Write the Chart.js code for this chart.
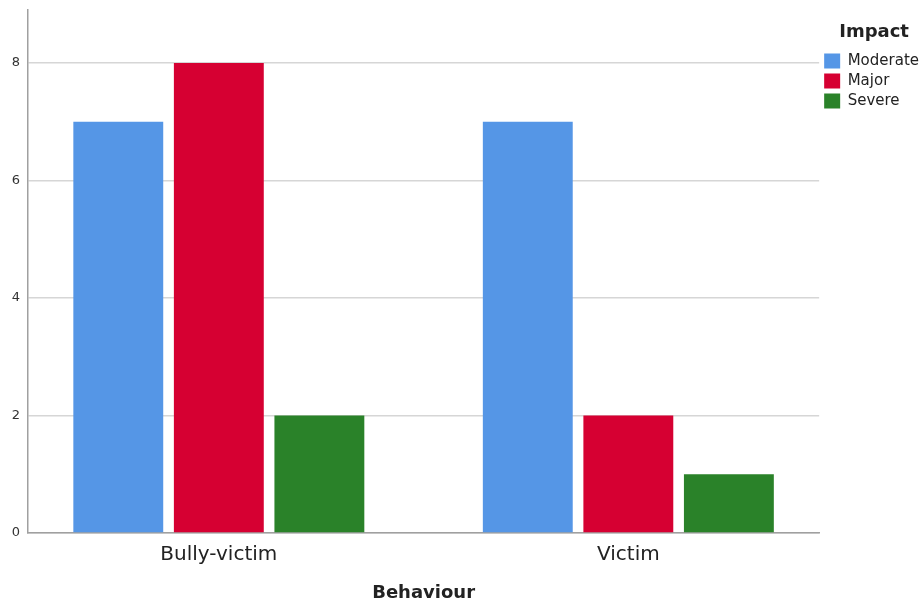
<!DOCTYPE html>
<html><head><meta charset="utf-8">
<script src="https://cdn.jsdelivr.net/npm/chart.js@4/dist/chart.umd.min.js"></script>
<style>html,body{margin:0;padding:0;background:#fff}#wrap{width:921px;height:607px}</style>
</head><body><div id="wrap"><canvas id="c" width="921" height="607"></canvas></div>
<script>
const categories = ['Bully-victim', 'Victim'];
const seriesNames = ['Moderate', 'Major', 'Severe'];
const moderate = [7, 7];
const major = [8, 2];
const severe = [2, 1];
const yTicks = [0, 2, 4, 6, 8];
const colors = ['#5596E6', '#D60032', '#2A8229'];

const toPoints = arr => arr.map((v, i) => ({x: i, y: v}));
const seriesValues = [moderate, major, severe];

Chart.defaults.font.family = '"DejaVu Sans", sans-serif';

new Chart(document.getElementById('c'), {
  type: 'bar',
  data: {
    datasets: seriesNames.map((n, k) => ({
      label: n,
      data: toPoints(seriesValues[k]),
      backgroundColor: colors[k],
      borderWidth: 0,
      categoryPercentage: 0.7366,
      barPercentage: 0.894
    }))
  },
  options: {
    responsive: false,
    animation: false,
    layout: {padding: {top: 10, left: 0, right: -8, bottom: 0}},
    plugins: {
      tooltip: {enabled: false},
      legend: {
        position: 'right',
        align: 'start',
        title: {display: true, text: 'Impact', color: '#222', font: {size: 18, weight: 'bold'}, padding: {top: 13, bottom: 4}},
        labels: {boxWidth: 16, boxHeight: 15, font: {size: 15}, color: '#222', padding: 5}
      }
    },
    scales: {
      x: {
        type: 'linear',
        min: -0.466,
        max: 1.466,
        offset: false,
        grid: {display: false},
        border: {display: true, color: '#a0a0a0', width: 1.5},
        afterBuildTicks: s => { s.ticks = categories.map((c, i) => ({value: i})); },
        afterFit: s => { s.height = 74; },
        ticks: {
          callback: v => categories[v],
          font: {size: 20}, color: '#222', padding: 2, maxRotation: 0, autoSkip: false
        },
        title: {display: true, text: 'Behaviour', color: '#222', font: {size: 18, weight: 'bold'}, padding: {top: 0, bottom: 3}}
      },
      y: {
        min: 0,
        max: 8.9,
        afterBuildTicks: s => { s.ticks = yTicks.map(v => ({value: v})); },
        afterFit: s => { s.width = 28; s.paddingTop = 0; },
        grid: {color: '#d6d6d6', lineWidth: 1.5, drawTicks: false},
        border: {display: true, color: '#a0a0a0', width: 1.5},
        ticks: {font: {size: 13}, color: '#333', padding: 8}
      }
    }
  }
});
</script></body></html>
